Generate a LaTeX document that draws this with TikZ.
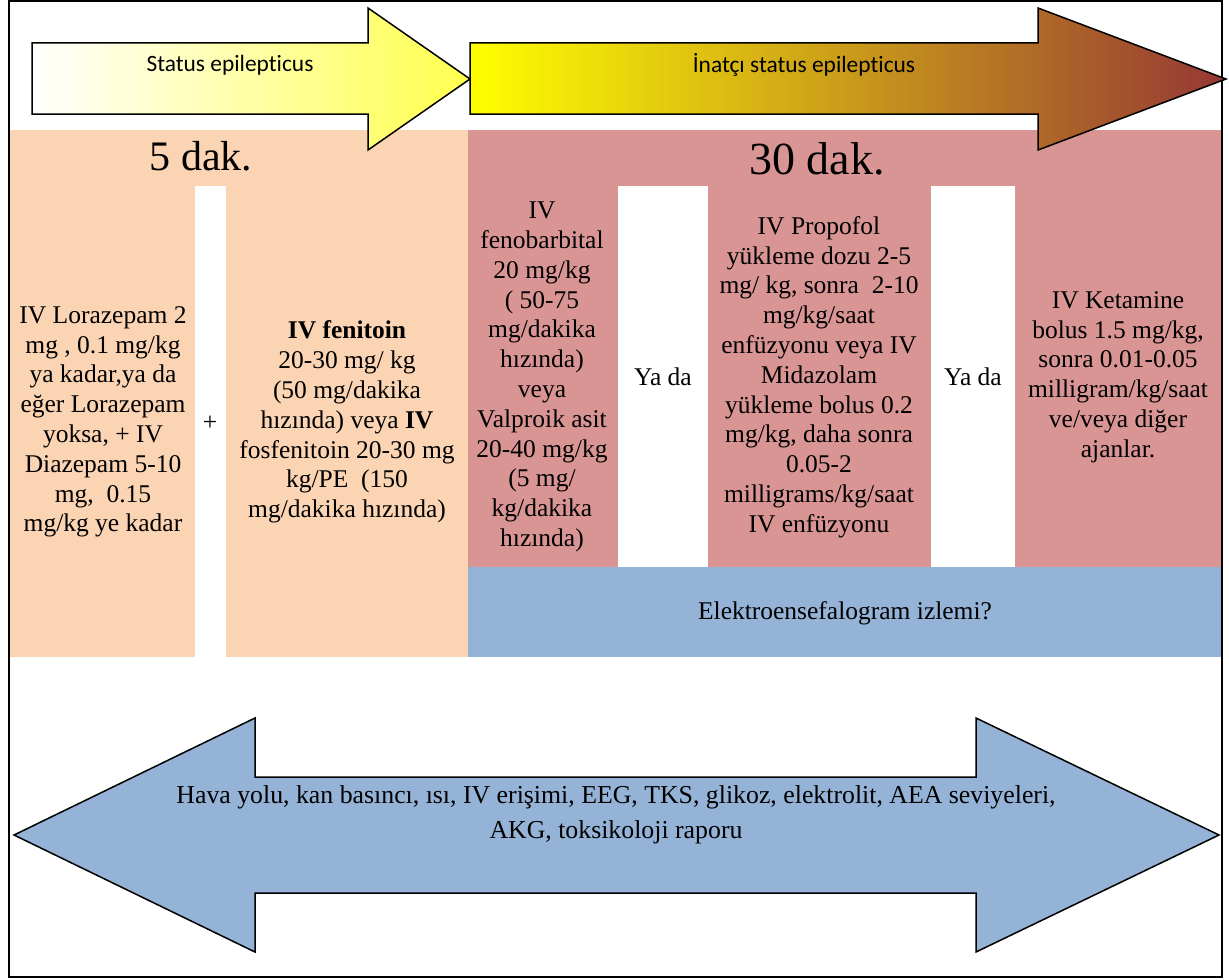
\documentclass[tikz,border=0pt]{standalone}
\usepackage{fontspec}
\setmainfont{Liberation Serif}
\newfontfamily\calibrifont[Ligatures=NoCommon]{Carlito}
\usepackage{xcolor}
\usepackage{tikz}
\usetikzlibrary{positioning}
\definecolor{sepeach}{HTML}{FBD4B4}
\definecolor{serose}{HTML}{D99594}
\definecolor{seblue}{HTML}{95B3D7}
\definecolor{seyellow}{HTML}{FFFF4D}
\definecolor{seolive}{HTML}{D4B426}
\definecolor{sebrown}{HTML}{953735}
\tikzset{%
  searrow/.style={%
    draw=black,
    line width=0.75pt,
    line join=miter
  },
  selabel/.style={%
    font=\calibrifont\fontsize{11.7}{14}\selectfont,
    inner sep=0pt
  },
  setime/.style={%
    font=\fontsize{21}{25}\selectfont,
    inner sep=0pt,
    anchor=base
  },
  sedrug/.style={%
    align=center,
    font=\fontsize{12.75}{14.9}\selectfont,
    inner sep=0pt
  },
  seor/.style={sedrug}
}
\begin{document}
\begin{tikzpicture}[x=0.5pt,y=-0.5pt]
    \useasboundingbox (0,0) rectangle (1229,979);
    \fill[sepeach] (9,130) rectangle (468,657);
    \fill[serose] (468,130) rectangle (1222,567);
    \fill[seblue] (468,567) rectangle (1222,657);
    \fill[white] (195,186) rectangle (226,657);
    \fill[white] (618,186) rectangle (708,567);
    \fill[white] (931,186) rectangle (1015,567);
    \draw[line width=1pt] (9,1) rectangle (1222,977);

    \shadedraw[searrow,left color=white,right color=seyellow]
      (32,43) -- (368,43) -- (368,8) -- (470,79) -- (368,150) -- (368,114) -- (32,114) -- cycle;
    \shadedraw[searrow,left color=yellow,middle color=seolive,right color=sebrown]
      (470,43) -- (1038,43) -- (1038,8) -- (1226,79) -- (1038,150) -- (1038,114) -- (470,114) -- cycle;
    \filldraw[searrow,fill=seblue]
      (14,835) -- (255,718) -- (255,777) -- (976,777) -- (976,718) -- (1219,835)
      -- (976,952) -- (976,893) -- (255,893) -- (255,952) -- cycle;

    \node[selabel] (status) at (230,65) {Status epilepticus};
    \node[selabel] (refractory) at (804,65) {İnatçı status epilepticus};
    \node[setime] (fivemin) at (201,170) {5 dak.};
    \node[setime,font=\fontsize{23}{27}\selectfont] (thirtymin) at (817,174) {30 dak.};

    \node[sedrug] (benzo) at (103,422) {IV Lorazepam 2\\mg , 0.1 mg/kg\\ya kadar,ya da\\eğer Lorazepam\\yoksa, + IV\\Diazepam 5-10\\mg,\ \ 0.15\\mg/kg ye kadar};
    \node[seor] (plus) at (210,423) {+};
    \node[sedrug] (phenytoin) at (347,422) {\textbf{IV fenitoin}\\20-30 mg/ kg\\(50 mg/dakika\\hızında) veya \textbf{IV}\\fosfenitoin 20-30 mg\\kg/PE\ \ (150\\mg/dakika hızında)};
    \node[sedrug] (barbital) at (542,377) {IV\\fenobarbital\\20 mg/kg\\( 50-75\\mg/dakika\\hızında)\\veya\\Valproik asit\\20-40 mg/kg\\(5 mg/\\kg/dakika\\hızında)};
    \node[seor] (orone) at (663,377) {Ya da};
    \node[sedrug] (propofol) at (819,377) {IV Propofol\\yükleme dozu 2-5\\mg/ kg, sonra\ \ 2-10\\mg/kg/saat\\enfüzyonu veya IV\\Midazolam\\yükleme bolus 0.2\\mg/kg, daha sonra\\0.05-2\\milligrams/kg/saat\\IV enfüzyonu};
    \node[seor] (ortwo) at (973,377) {Ya da};
    \node[sedrug] (ketamine) at (1118,377) {IV Ketamine\\bolus 1.5 mg/kg,\\sonra 0.01-0.05\\milligram/kg/saat\\ve/veya diğer\\ajanlar.};
    \node[sedrug] (eeg) at (845,613) {Elektroensefalogram izlemi?};
    \node[sedrug,font=\fontsize{12.9}{17.5}\selectfont] (support) at (616,815) {Hava yolu, kan basıncı, ısı, IV erişimi, EEG, TKS, glikoz, elektrolit, AEA seviyeleri,\\AKG, toksikoloji raporu};
  \end{tikzpicture}
\end{document}
